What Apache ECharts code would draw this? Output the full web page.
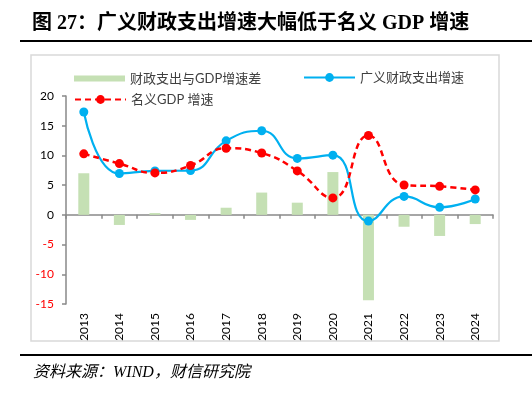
<!DOCTYPE html>
<html>
<head>
<meta charset="utf-8">
<script src="https://cdn.jsdelivr.net/npm/echarts@6/dist/echarts.min.js"></script>
<style>
html, body { margin: 0; padding: 0; background: #fff; }
#chart { width: 532px; height: 397px; }
</style>
</head>
<body>
<div id="chart"></div>
<script>
var years = ['2013','2014','2015','2016','2017','2018','2019','2020','2021','2022','2023','2024'];
// 广义财政支出增速
var spendGrowth = [17.3, 6.95, 7.4, 7.45, 12.45, 14.15, 9.5, 10.05, -1.05, 3.1, 1.27, 2.67];
// 名义GDP 增速
var gdpGrowth = [10.27, 8.63, 7.06, 8.3, 11.2, 10.4, 7.4, 2.85, 13.36, 5.03, 4.8, 4.2];
// 财政支出与GDP增速差
var gapValues = [7.0, -1.7, 0.3, -0.85, 1.2, 3.75, 2.05, 7.2, -14.35, -2.0, -3.55, -1.55];
var yTicks = { min: -15, max: 20, step: 5 };

var labelFont = 'Lato, "Noto Sans CJK SC", sans-serif';

var myChart = echarts.init(document.getElementById('chart'));

var option = {
	animation: false,
	backgroundColor: '#fff',
	grid: {
		left: 66,
		right: 39,
		top: 96,
		bottom: 93
	},
	legend: [
		{
			left: 69, top: 67,
			itemWidth: 51, itemHeight: 6,
			icon: 'rect',
			textStyle: { color: '#404040', fontSize: 13, fontFamily: labelFont },
			data: ['财政支出与GDP增速差']
		},
		{
			left: 298, top: 66,
			itemWidth: 51, itemHeight: 11,
			textStyle: { color: '#404040', fontSize: 13, fontFamily: labelFont },
			data: ['广义财政支出增速']
		},
		{
			left: 69, top: 88,
			itemWidth: 51, itemHeight: 11,
			textStyle: { color: '#404040', fontSize: 13, fontFamily: labelFont },
			data: ['名义GDP 增速']
		}
	],
	xAxis: [
		{
			type: 'category',
			data: years,
			axisLine: { onZero: true, lineStyle: { color: '#898989', width: 1.5 } },
			axisTick: { show: true, length: 4, lineStyle: { color: '#898989', width: 1.5 } },
			axisLabel: { show: false },
			splitLine: { show: false }
		},
		{
			type: 'category',
			data: years,
			position: 'bottom',
			axisLine: { show: false, onZero: false },
			axisTick: { show: false },
			axisLabel: {
				rotate: 90,
				margin: 9,
				color: '#000',
				fontSize: 12,
				fontFamily: labelFont
			},
			splitLine: { show: false }
		}
	],
	yAxis: {
		type: 'value',
		min: yTicks.min,
		max: yTicks.max,
		interval: yTicks.step,
		axisLine: { show: true, lineStyle: { color: '#898989', width: 1.5 } },
		axisTick: { show: true, length: 4, lineStyle: { color: '#898989', width: 1.5 } },
		axisLabel: {
			margin: 12,
			fontSize: 12,
			fontFamily: labelFont,
			color: function (value) {
				return value < 0 ? '#ff0000' : '#000';
			}
		},
		splitLine: { show: false }
	},
	series: [
		{
			name: '财政支出与GDP增速差',
			type: 'bar',
			barWidth: 11,
			itemStyle: { color: '#c5e0b4' },
			data: gapValues,
			z: 1
		},
		{
			name: '广义财政支出增速',
			type: 'line',
			smooth: 0.5,
			symbol: 'circle',
			symbolSize: 9,
			lineStyle: { color: '#00b0f0', width: 2.2 },
			itemStyle: { color: '#00b0f0' },
			data: spendGrowth,
			z: 3
		},
		{
			name: '名义GDP 增速',
			type: 'line',
			smooth: 0.5,
			symbol: 'circle',
			symbolSize: 9,
			lineStyle: { color: '#ff0000', width: 2.5, type: [6, 4] },
			itemStyle: { color: '#ff0000' },
			data: gdpGrowth,
			z: 4
		}
	],
	graphic: [
		{
			type: 'text',
			left: 32, top: 14,
			style: {
				text: '图 27：广义财政支出增速大幅低于名义 GDP 增速',
				fill: '#000',
				font: 'bold 20px "Liberation Serif", "Noto Sans CJK SC", serif'
			}
		},
		{
			type: 'rect',
			shape: { x: 20, y: 40, width: 512, height: 2 },
			style: { fill: '#000' }
		},
		{
			type: 'rect',
			shape: { x: 31, y: 55, width: 468, height: 286 },
			style: { fill: 'none', stroke: '#d9d9d9', lineWidth: 1.5 },
			z: -1
		},
		{
			type: 'rect',
			shape: { x: 20, y: 354, width: 512, height: 2 },
			style: { fill: '#000' }
		},
		{
			type: 'text',
			left: 33, top: 365,
			style: {
				text: '资料来源：WIND，财信研究院',
				fill: '#000',
				font: 'italic 16px "Liberation Serif", "Noto Sans CJK SC", serif'
			}
		}
	]
};

myChart.setOption(option);
</script>
</body>
</html>
